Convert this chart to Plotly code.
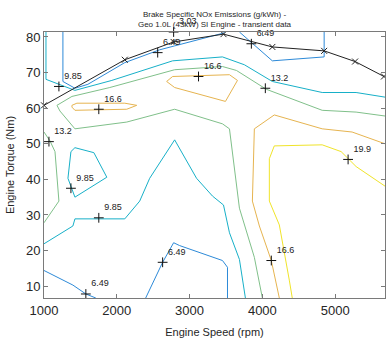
import plotly.graph_objects as go

# ---- max torque curve ----
max_rpm = [1000, 2110, 2781, 3466, 4137, 4849, 5274, 5671]
max_torque = [60.8, 73.6, 78.6, 80.8, 77.2, 76.1, 73.1, 68.9]

# ---- contour lines (rpm, torque) ----
c649_a_rpm = [1260, 1260, 1425, 1603, 2110, 2589, 2795, 3466, 3480]
c649_a_trq = [81.4, 67.5, 65.6, 66.7, 72.8, 76.4, 77.5, 81.1, 81.4]
c649_b_rpm = [3685, 3918, 4137, 4849, 4849]
c649_b_trq = [81.4, 77.2, 73.3, 74.4, 81.4]
c649_c_rpm = [1000, 1397, 1575, 1712]
c649_c_trq = [14.4, 10.3, 7.8, 6.67]
c649_d_rpm = [2397, 2630, 2781, 2863, 3452, 3521, 3521]
c649_d_trq = [6.67, 16.7, 22.2, 21.4, 17.2, 15.3, 6.67]

c985_a_rpm = [1027, 1027, 1425, 1630, 1932, 2767, 3452, 3753, 4137, 4822, 5288, 5685]
c985_a_trq = [81.4, 68.1, 65.0, 66.1, 67.8, 73.3, 74.4, 72.2, 67.5, 64.4, 64.4, 63.1]
c985_b_rpm = [1425, 1685, 1863, 1425, 1329, 1370, 1425]
c985_b_trq = [48.9, 47.5, 40.6, 35.0, 40.3, 47.8, 48.9]
c985_c_rpm = [1000, 1397, 1425, 2110, 2315, 2452, 2795, 3096, 3315, 3466, 3548, 3685, 3767]
c985_c_trq = [21.9, 26.9, 28.9, 28.9, 33.9, 40.3, 51.1, 40.3, 35.3, 32.8, 25.0, 17.5, 6.67]

c132_a_rpm = [5685, 5288, 4822, 4370, 4055, 3644, 3452, 2795, 1904, 1384, 1178, 1219,
              1425, 2137, 2795, 3452, 3548, 3685, 3726, 3890, 4000]
c132_a_trq = [57.8, 58.9, 59.4, 62.8, 65.3, 70.6, 71.7, 70.8, 65.8, 63.3, 60.8, 59.2,
              54.2, 56.1, 59.7, 55.6, 54.2, 31.9, 29.2, 18.1, 6.67]
c132_b_rpm = [1000, 1082, 1151, 1178, 1205, 1000]
c132_b_trq = [53.3, 50.8, 47.8, 40.3, 33.9, 27.8]

c166_a_rpm = [1384, 1452, 2110, 2274, 2137, 1425, 1384, 1384]
c166_a_trq = [60.8, 61.4, 61.4, 60.8, 59.7, 59.4, 60.3, 60.8]
c166_b_rpm = [2685, 2767, 3548, 3658, 3493, 2795, 2685]
c166_b_trq = [67.5, 68.9, 69.4, 67.8, 61.9, 65.8, 67.5]
c166_c_rpm = [5685, 5233, 4822, 4164, 3890, 3863, 3959, 4123, 4233]
c166_c_trq = [50.0, 53.3, 54.2, 58.1, 54.2, 33.9, 26.9, 17.2, 6.67]

c199_rpm = [5685, 5288, 5082, 4822, 4164, 4096, 4096, 4233, 4370, 4411]
c199_trq = [38.1, 43.6, 47.8, 49.7, 49.4, 45.8, 33.9, 27.2, 11.7, 6.67]

# ---- contour labels ----
label_rpm = [2781, 2562, 1205, 1753, 3123, 4041, 3849, 1068, 1370, 1753, 2630, 1575, 5178, 4123]
label_trq = [81.4, 75.6, 66.1, 59.7, 68.9, 65.6, 78.1, 50.6, 37.5, 29.2, 16.7, 7.8, 45.6, 17.2]
label_txt = ["3.03", "6.49", "9.85", "16.6", "16.6", "13.2", "6.49", "13.2", "9.85", "9.85",
             "6.49", "6.49", "19.9", "16.6"]

col_649 = "#2D8AD8"
col_985 = "#17B0C8"
col_132 = "#80C08A"
col_166 = "#E6B450"
col_199 = "#F0E42A"

segments = [
    (c649_a_rpm, c649_a_trq, col_649), (c649_b_rpm, c649_b_trq, col_649),
    (c649_c_rpm, c649_c_trq, col_649), (c649_d_rpm, c649_d_trq, col_649),
    (c985_a_rpm, c985_a_trq, col_985), (c985_b_rpm, c985_b_trq, col_985),
    (c985_c_rpm, c985_c_trq, col_985),
    (c132_a_rpm, c132_a_trq, col_132), (c132_b_rpm, c132_b_trq, col_132),
    (c166_a_rpm, c166_a_trq, col_166), (c166_b_rpm, c166_b_trq, col_166),
    (c166_c_rpm, c166_c_trq, col_166),
    (c199_rpm, c199_trq, col_199),
]

fig = go.Figure()
for xs, ys, c in segments:
    fig.add_trace(go.Scatter(x=xs, y=ys, mode="lines", line=dict(color=c, width=1),
                             showlegend=False, hoverinfo="skip"))

fig.add_trace(go.Scatter(x=max_rpm, y=max_torque, mode="lines+markers",
                         line=dict(color="#222222", width=1),
                         marker=dict(symbol="x-thin", size=6, line=dict(color="#222222", width=1)),
                         showlegend=False, cliponaxis=False))

fig.add_trace(go.Scatter(x=label_rpm, y=label_trq, mode="markers+text", text=label_txt,
                         textposition="top right",
                         textfont=dict(family="Liberation Sans", size=9, color="#222222"),
                         marker=dict(symbol="cross-thin", size=7, line=dict(color="#111111", width=1)),
                         showlegend=False, cliponaxis=False))

axis_common = dict(showline=True, linecolor="#7a7a7a", linewidth=1, mirror="ticks",
                   ticks="inside", ticklen=4, tickcolor="#7a7a7a", showgrid=False,
                   zeroline=False,
                   tickfont=dict(family="Liberation Sans", size=13, color="#262626"))

fig.update_layout(
    width=386, height=338,
    margin=dict(l=44, r=0, t=32, b=37),
    paper_bgcolor="white", plot_bgcolor="white",
    title=dict(text="Brake Specific NOx Emissions (g/kWh) -<br>Geo 1.0L (43kW) SI Engine - transient data",
               font=dict(family="Liberation Sans", size=8, color="#262626"),
               x=0.5, xref="paper", xanchor="center", y=1 - 17 / 338, yref="container", yanchor="top"),
    xaxis=dict(range=[1000, 5685], tickvals=[1000, 2000, 3000, 4000, 5000],
               title=dict(text="Engine Speed (rpm)", standoff=13,
                          font=dict(family="Liberation Sans", size=11, color="#262626")),
               **axis_common),
    yaxis=dict(range=[6.67, 81.4], tickvals=[10, 20, 30, 40, 50, 60, 70, 80],
               title=dict(text="Engine Torque (Nm)", standoff=9,
                          font=dict(family="Liberation Sans", size=11, color="#262626")),
               **axis_common),
)

fig.write_html("out.html")
